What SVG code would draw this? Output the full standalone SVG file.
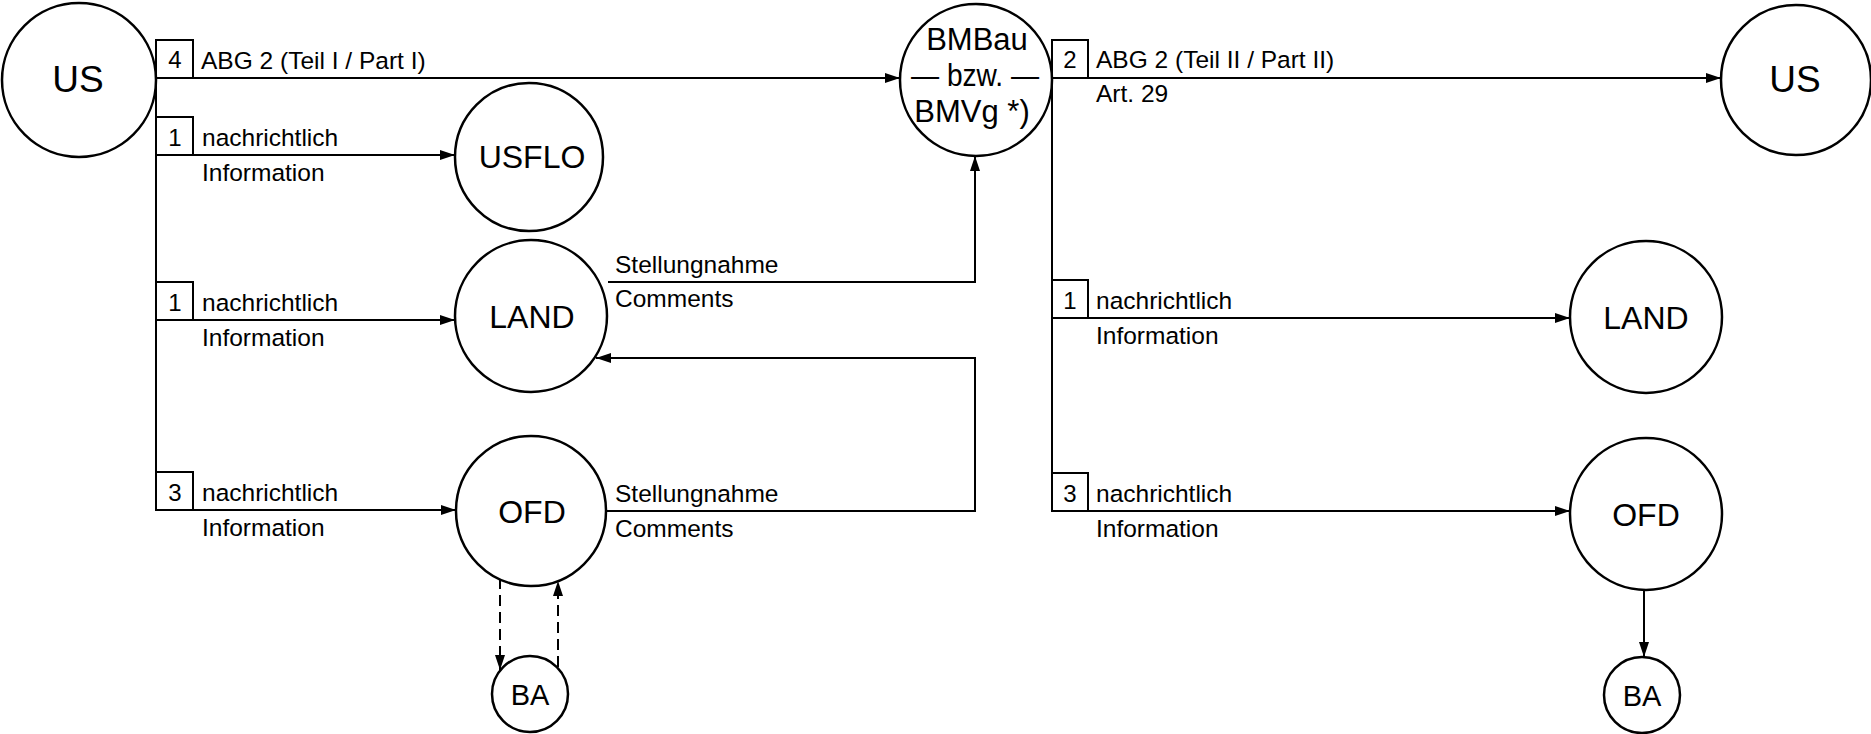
<svg xmlns="http://www.w3.org/2000/svg" width="1871" height="734" viewBox="0 0 1871 734">
<style>
.node{fill:#fff;stroke:#000;stroke-width:2.5}
.big{font-family:"Liberation Sans",Arial,sans-serif;font-size:32px;text-anchor:middle;fill:#000}
.lbl{font-family:"Liberation Sans",Arial,sans-serif;font-size:24.5px;fill:#000}
.num{font-family:"Liberation Sans",Arial,sans-serif;font-size:24px;fill:#000;text-anchor:middle}
.ln{fill:none;stroke:#000;stroke-width:2}
.dash{fill:none;stroke:#000;stroke-width:2;stroke-dasharray:11 6}
.box{fill:#fff;stroke:#000;stroke-width:2}
</style>
<defs>
<marker id="ah" markerUnits="userSpaceOnUse" markerWidth="15" markerHeight="10" refX="15" refY="5" orient="auto">
<path d="M0,0 L15,5 L0,10 z" fill="#000"/>
</marker>
</defs>
<g id="connectors">
<line class="ln" x1="156" y1="78" x2="900" y2="78" marker-end="url(#ah)"/>
<line class="ln" x1="156" y1="78" x2="156" y2="510"/>
<line class="ln" x1="156" y1="155" x2="455" y2="155" marker-end="url(#ah)"/>
<line class="ln" x1="156" y1="320" x2="455" y2="320" marker-end="url(#ah)"/>
<line class="ln" x1="156" y1="510" x2="456" y2="510" marker-end="url(#ah)"/>
<polyline class="ln" points="608,282 975,282 975,156" marker-end="url(#ah)"/>
<polyline class="ln" points="606,511 975,511 975,358 596,358" marker-end="url(#ah)"/>
<line class="dash" x1="500" y1="578" x2="500" y2="670" marker-end="url(#ah)"/>
<line class="dash" x1="558" y1="667" x2="558" y2="581" marker-end="url(#ah)"/>
<line class="ln" x1="1052" y1="78" x2="1721" y2="78" marker-end="url(#ah)"/>
<line class="ln" x1="1052" y1="78" x2="1052" y2="511"/>
<line class="ln" x1="1052" y1="318" x2="1570" y2="318" marker-end="url(#ah)"/>
<line class="ln" x1="1052" y1="511" x2="1570" y2="511" marker-end="url(#ah)"/>
<line class="ln" x1="1644" y1="590" x2="1644" y2="657" marker-end="url(#ah)"/>
<rect class="box" x="156" y="40" width="37" height="38"/>
<rect class="box" x="156" y="117" width="37" height="38"/>
<rect class="box" x="156" y="282" width="37" height="38"/>
<rect class="box" x="156" y="472" width="37" height="38"/>
<rect class="box" x="1052" y="40" width="36" height="38"/>
<rect class="box" x="1052" y="280" width="36" height="38"/>
<rect class="box" x="1052" y="473" width="36" height="38"/>
<text class="num" x="175" y="68">4</text>
<text class="num" x="175" y="146">1</text>
<text class="num" x="175" y="311">1</text>
<text class="num" x="175" y="501">3</text>
<text class="num" x="1070" y="68">2</text>
<text class="num" x="1070" y="309">1</text>
<text class="num" x="1070" y="502">3</text>
<text class="lbl" x="201" y="69">ABG 2 (Teil I / Part I)</text>
<text class="lbl" x="202" y="146">nachrichtlich</text>
<text class="lbl" x="202" y="181">Information</text>
<text class="lbl" x="202" y="311">nachrichtlich</text>
<text class="lbl" x="202" y="346">Information</text>
<text class="lbl" x="202" y="501">nachrichtlich</text>
<text class="lbl" x="202" y="536">Information</text>
<text class="lbl" x="615" y="273">Stellungnahme</text>
<text class="lbl" x="615" y="307">Comments</text>
<text class="lbl" x="615" y="502">Stellungnahme</text>
<text class="lbl" x="615" y="537">Comments</text>
<text class="lbl" x="1096" y="68">ABG 2 (Teil II / Part II)</text>
<text class="lbl" x="1096" y="102">Art. 29</text>
<text class="lbl" x="1096" y="309">nachrichtlich</text>
<text class="lbl" x="1096" y="344">Information</text>
<text class="lbl" x="1096" y="502">nachrichtlich</text>
<text class="lbl" x="1096" y="537">Information</text>
</g>
<g id="us-left"><circle class="node" cx="79" cy="80" r="77"/><text class="big" x="78" y="92" style="font-size:37px">US</text></g>
<g id="bmbau"><circle class="node" cx="976" cy="80" r="76"/>
<text class="big" x="977" y="50" style="font-size:31px">BMBau</text>
<text class="big" x="975" y="86" style="font-size:31px" textLength="128" lengthAdjust="spacingAndGlyphs">— bzw. —</text>
<text class="big" x="972" y="122" style="font-size:31px">BMVg *)</text></g>
<g id="us-right"><circle class="node" cx="1796" cy="80" r="75"/><text class="big" x="1795" y="92" style="font-size:37px">US</text></g>
<g id="usflo"><circle class="node" cx="529" cy="157" r="74"/><text class="big" x="532" y="168">USFLO</text></g>
<g id="land-left"><circle class="node" cx="531" cy="316" r="76"/><text class="big" x="532" y="328">LAND</text></g>
<g id="ofd-left"><circle class="node" cx="531" cy="511" r="75"/><text class="big" x="532" y="523">OFD</text></g>
<g id="ba-left"><circle class="node" cx="530" cy="694" r="38"/><text class="big" x="530" y="705" style="font-size:29px">BA</text></g>
<g id="land-right"><circle class="node" cx="1646" cy="317" r="76"/><text class="big" x="1646" y="329">LAND</text></g>
<g id="ofd-right"><circle class="node" cx="1646" cy="514" r="76"/><text class="big" x="1646" y="526">OFD</text></g>
<g id="ba-right"><circle class="node" cx="1642" cy="695" r="38"/><text class="big" x="1642" y="706" style="font-size:29px">BA</text></g>
</svg>
